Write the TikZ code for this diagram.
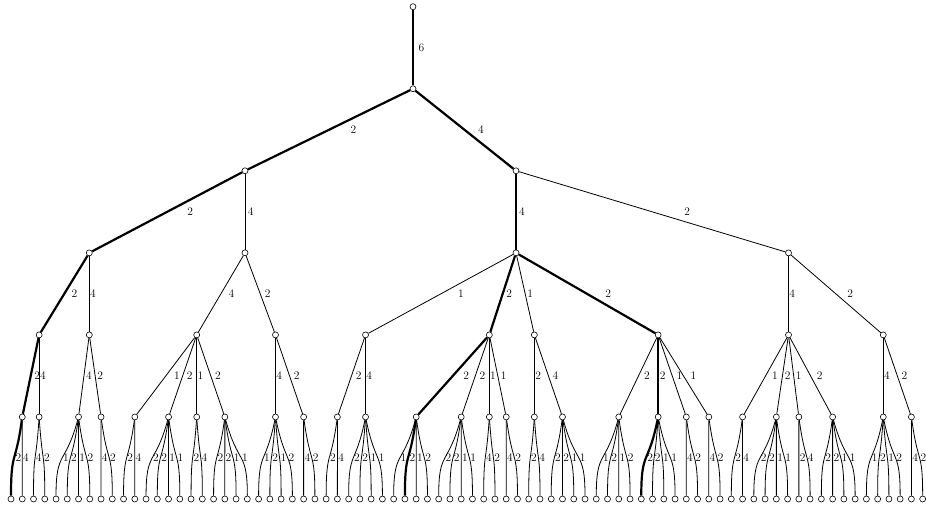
\documentclass[tikz,border=0pt]{standalone}
\usepackage{fontspec}
\usetikzlibrary{calc}
\tikzset{
  dot/.style={circle, draw, fill=white, inner sep=0pt, minimum size=6pt, line width=0.6pt},
  tedge/.style={line width=0.8pt},
  heavy/.style={line width=2.2pt},
  lbl/.style={anchor=west, inner sep=0.5pt, font=\fontsize{11.5}{12}\selectfont}
}
\newcommand{\tedg}[5][]{\draw[tedge,#1] (#2) -- node[lbl,xshift=#5pt]{#4} (#3);}
\newcommand{\tleaf}[4][]{\draw[tedge,#1] (#2) .. controls ($(#2)!0.6!(#3)$) and ($(#3)+(0,-49)$) .. node[lbl]{#4} (#3);}
\begin{document}
\begin{tikzpicture}[x=1pt,y=-1pt]
\useasboundingbox (0,0) rectangle (926,508);
% levels 0-3
\node[dot] (R) at (413,6.7) {};
\node[dot] (A) at (413,88.75) {};
\node[dot] (B) at (245,170.8) {};
\node[dot] (C) at (516,170.8) {};
\node[dot] (D) at (89.3,252.85) {};
\node[dot] (E) at (245,252.85) {};
\node[dot] (F) at (516,252.85) {};
\node[dot] (G) at (788.5,252.85) {};
% level 4
\foreach \n/\x in {D1/39.14, D2/89.3, E1/196.71, E2/275.49, F1/365.53, F2/489.34, F3/534.36, F4/658.16, G1/788.5, G2/883.26}
  \node[dot] (\n) at (\x,334.9) {};
% level 5
\foreach \n/\x in {1/22.26, 2/39.14, 3/78.53, 4/101.04, 5/134.81, 6/168.57, 7/196.71, 8/224.85, 9/275.49, 10/303.63, 11/337.40, 12/365.53, 13/416.18, 14/461.2, 15/489.34, 16/506.22, 17/534.36, 18/562.50, 19/618.77, 20/658.16, 21/686.3, 22/708.81, 23/742.58, 24/776.34, 25/798.85, 26/832.62, 27/883.26, 28/911.4}
  \node[dot] (N\n) at (\x,416.95) {};
% leaves
\foreach \i in {0,...,81}
  \node[dot] (L\i) at ({11+11.255*\i},499) {};

% upper edges
\tedg[heavy]{R}{A}{6}{3.9}
\tedg[heavy]{A}{B}{2}{19.9}
\tedg[heavy]{A}{C}{4}{12.1}
\tedg[heavy]{B}{D}{2}{18.5}
\tedg{B}{E}{4}{2}
\tedg[heavy]{C}{F}{4}{1.6}
\tedg{C}{G}{2}{31.3}
\tedg[heavy]{D}{D1}{2}{5.7}
\tedg{D}{D2}{4}{0}
\tedg{E}{E1}{4}{6.75}
\tedg{E}{E2}{2}{3.65}
\tedg{F}{F1}{1}{16.5}
\tedg[heavy]{F}{F2}{2}{2.2}
\tedg{F}{F3}{1}{1.4}
\tedg[heavy]{F}{F4}{2}{16.8}
\tedg{G}{G1}{4}{0}
\tedg{G}{G2}{2}{10.7}

% level 4 -> 5
\tedg[heavy]{D1}{N1}{2}{2.1}
\tedg{D1}{N2}{4}{0}
\tedg{D2}{N3}{4}{1.3}
\tedg{D2}{N4}{2}{1.4}
\tedg{E1}{N5}{1}{7.5}
\tedg{E1}{N6}{2}{3.4}
\tedg{E1}{N7}{1}{0}
\tedg{E1}{N8}{2}{3.4}
\tedg{E2}{N9}{4}{0}
\tedg{E2}{N10}{2}{3.4}
\tedg{F1}{N11}{2}{3.4}
\tedg{F1}{N12}{4}{0}
\tedg[heavy]{F2}{N13}{2}{8.9}
\tedg{F2}{N14}{2}{3.4}
\tedg{F2}{N15}{1}{0}
\tedg{F2}{N16}{1}{2.1}
\tedg{F3}{N17}{2}{0}
\tedg{F3}{N18}{4}{3.4}
\tedg{F4}{N19}{2}{4.8}
\tedg[heavy]{F4}{N20}{2}{0}
\tedg{F4}{N21}{1}{3.4}
\tedg{F4}{N22}{1}{6.2}
\tedg{G1}{N23}{1}{5.6}
\tedg{G1}{N24}{2}{1.5}
\tedg{G1}{N25}{1}{1.3}
\tedg{G1}{N26}{2}{5.4}
\tedg{G2}{N27}{4}{0}
\tedg{G2}{N28}{2}{3.4}

% level 5 -> leaves
\tleaf[heavy]{N1}{L0}{2}
\tleaf[heavy]{N13}{L35}{2}
\tleaf[heavy]{N20}{L56}{2}
\foreach \p/\l/\t in {1/1/4, 2/2/4, 2/3/2,
  3/4/1, 3/5/2, 3/6/1, 3/7/2, 4/8/4, 4/9/2,
  5/10/2, 5/11/4, 6/12/2, 6/13/2, 6/14/1, 6/15/1,
  7/16/2, 7/17/4, 8/18/2, 8/19/2, 8/20/1, 8/21/1,
  9/22/1, 9/23/2, 9/24/1, 9/25/2, 10/26/4, 10/27/2,
  11/28/2, 11/29/4, 12/30/2, 12/31/2, 12/32/1, 12/33/1,
  13/34/1, 13/36/1, 13/37/2, 14/38/2, 14/39/2, 14/40/1, 14/41/1,
  15/42/4, 15/43/2, 16/44/4, 16/45/2, 17/46/2, 17/47/4,
  18/48/2, 18/49/2, 18/50/1, 18/51/1,
  19/52/1, 19/53/2, 19/54/1, 19/55/2,
  20/57/2, 20/58/1, 20/59/1, 21/60/4, 21/61/2, 22/62/4, 22/63/2,
  23/64/2, 23/65/4, 24/66/2, 24/67/2, 24/68/1, 24/69/1,
  25/70/2, 25/71/4, 26/72/2, 26/73/2, 26/74/1, 26/75/1,
  27/76/1, 27/77/2, 27/78/1, 27/79/2, 28/80/4, 28/81/2}
  \tleaf{N\p}{L\l}{\t};
\end{tikzpicture}
\end{document}
